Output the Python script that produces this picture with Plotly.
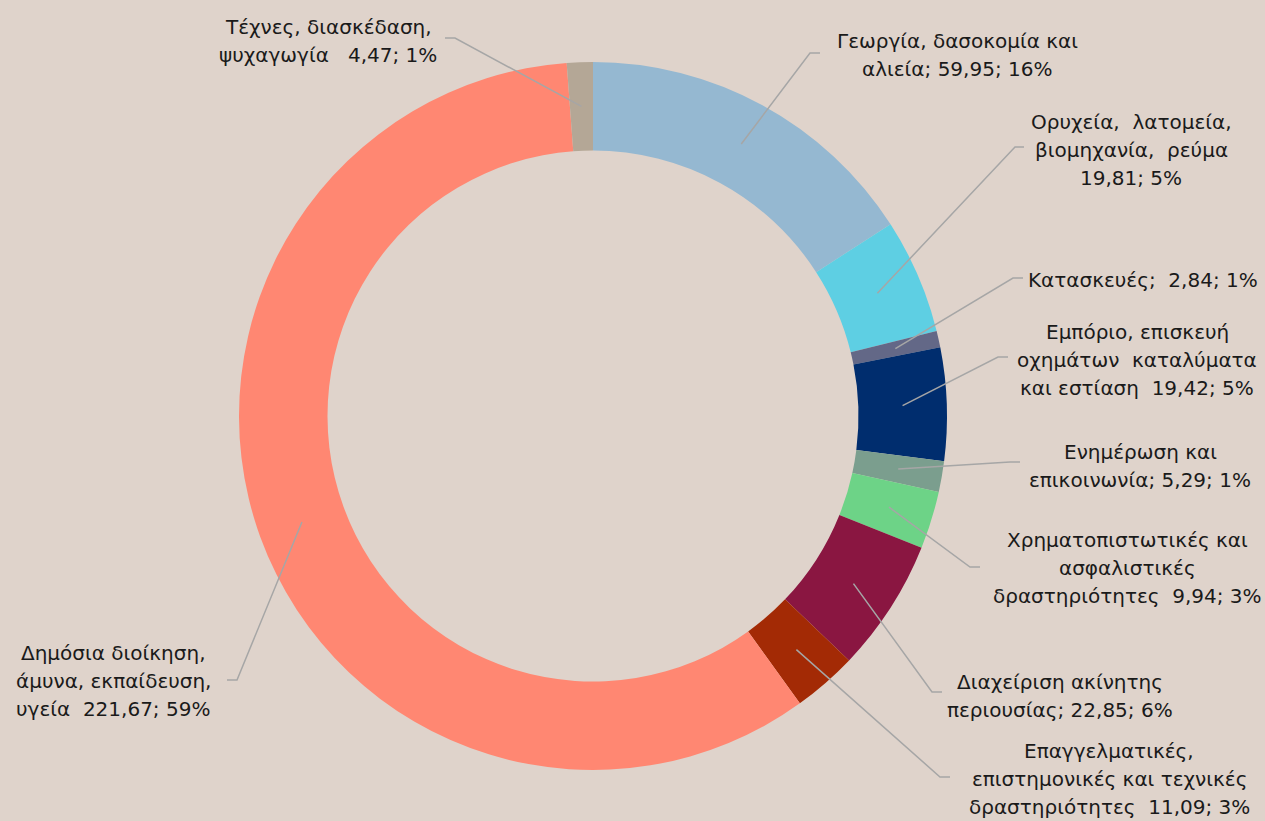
import math
import plotly.graph_objects as go

# ---- data ----
sectors = [
    "Γεωργία, δασοκομία και αλιεία",
    "Ορυχεία, λατομεία, βιομηχανία, ρεύμα",
    "Κατασκευές",
    "Εμπόριο, επισκευή οχημάτων καταλύματα και εστίαση",
    "Ενημέρωση και επικοινωνία",
    "Χρηματοπιστωτικές και ασφαλιστικές δραστηριότητες",
    "Διαχείριση ακίνητης περιουσίας",
    "Επαγγελματικές, επιστημονικές και τεχνικές δραστηριότητες",
    "Δημόσια διοίκηση, άμυνα, εκπαίδευση, υγεία",
    "Τέχνες, διασκέδαση, ψυχαγωγία",
]
values = [59.95, 19.81, 2.84, 19.42, 5.29, 9.94, 22.85, 11.09, 221.67, 4.47]
colors = ["#95B8D1", "#5ECFE3", "#636887", "#002D6E", "#7B9E8E",
          "#6DD387", "#8A1641", "#A32A05", "#FF8772", "#B4A796"]
label_lines = [
    ["Γεωργία, δασοκομία και", "αλιεία; 59,95; 16%"],
    ["Ορυχεία,\u00a0 λατομεία,", "βιομηχανία,\u00a0 ρεύμα", "19,81; 5%"],
    ["Κατασκευές;\u00a0 2,84; 1%"],
    ["Εμπόριο, επισκευή", "οχημάτων\u00a0 καταλύματα", "και εστίαση\u00a0 19,42; 5%"],
    ["Ενημέρωση και", "επικοινωνία; 5,29; 1%"],
    ["Χρηματοπιστωτικές και", "ασφαλιστικές", "δραστηριότητες\u00a0 9,94; 3%"],
    ["Διαχείριση ακίνητης", "περιουσίας; 22,85; 6%"],
    ["Επαγγελματικές,", "επιστημονικές και τεχνικές", "δραστηριότητες\u00a0 11,09; 3%"],
    ["Δημόσια διοίκηση,", "άμυνα, εκπαίδευση,", "υγεία\u00a0 221,67; 59%"],
    ["Τέχνες, διασκέδαση,", "ψυχαγωγία\u00a0\u00a0 4,47; 1%"],
]

# ---- layout (pixels) ----
W, H = 1265, 821
CX, CY, R_OUT = 593, 416, 354
HOLE = 0.75
M_T, M_B = CY - R_OUT, H - (CY + R_OUT)
# label block: (center x, first line y)
label_pos = [
    (957, 41), (1131, 122), (1143, 280), (1137, 332), (1140, 452),
    (1127, 540), (1060, 682), (1109, 751), (113, 653), (328, 27),
]
# leader line: elbow point and stub end
leader = [
    ((810, 53), (820, 53)), ((1015, 147), (1024, 147)), ((1013, 278), (1023, 278)),
    ((998, 357), (1008, 357)), ((1010, 462), (1020, 462)), ((970, 567), (980, 567)),
    ((932, 692), (942, 692)), ((940, 777), (950, 777)), ((237, 680), (227, 680)),
    ((455, 38), (445, 38)),
]
LINE_H = 28
FONT = "DejaVu Sans"
FONT_SIZE = 20
TEXT_COLOR = "#1A1A1A"
LEADER_COLOR = "#A6A6A6"
BG = "#DFD3CB"


def px(x):
    return x / W


def py(y):
    return (H - M_B - y) / (H - M_T - M_B)


fig = go.Figure(go.Pie(
    labels=sectors, values=values, hole=HOLE, sort=False, direction="clockwise",
    rotation=0, marker=dict(colors=colors, line=dict(width=0)),
    textinfo="none", showlegend=False,
    domain=dict(x=[px(CX - R_OUT), px(CX + R_OUT)], y=[0, 1]),
))

total = sum(values)
r_mid = R_OUT * (1 + HOLE) / 2
cum = 0.0
shapes, annotations = [], []
for i, v in enumerate(values):
    th = (cum + v / 2) / total * 2 * math.pi
    cum += v
    ax = CX + r_mid * math.sin(th)
    ay = CY - r_mid * math.cos(th)
    (ex, ey), (sx, sy) = leader[i]
    shapes.append(dict(
        type="path", xref="paper", yref="paper",
        path=f"M {px(ax)} {py(ay)} L {px(ex)} {py(ey)} L {px(sx)} {py(sy)}",
        line=dict(color=LEADER_COLOR, width=1.5),
    ))
    lx, ly = label_pos[i]
    for j, t in enumerate(label_lines[i]):
        annotations.append(dict(
            x=px(lx), y=py(ly + j * LINE_H), xref="paper", yref="paper",
            text=t, showarrow=False, xanchor="center", yanchor="middle",
            font=dict(family=FONT, size=FONT_SIZE, color=TEXT_COLOR),
        ))

fig.update_layout(
    width=W, height=H,
    margin=dict(l=0, r=0, t=M_T, b=M_B),
    paper_bgcolor=BG, plot_bgcolor=BG,
    shapes=shapes, annotations=annotations,
)
fig.write_html(
    "out.html",
    config={"displayModeBar": False},
    post_script="document.body.style.margin='0';document.body.style.padding='0';"
                "document.body.style.overflow='hidden';",
)
